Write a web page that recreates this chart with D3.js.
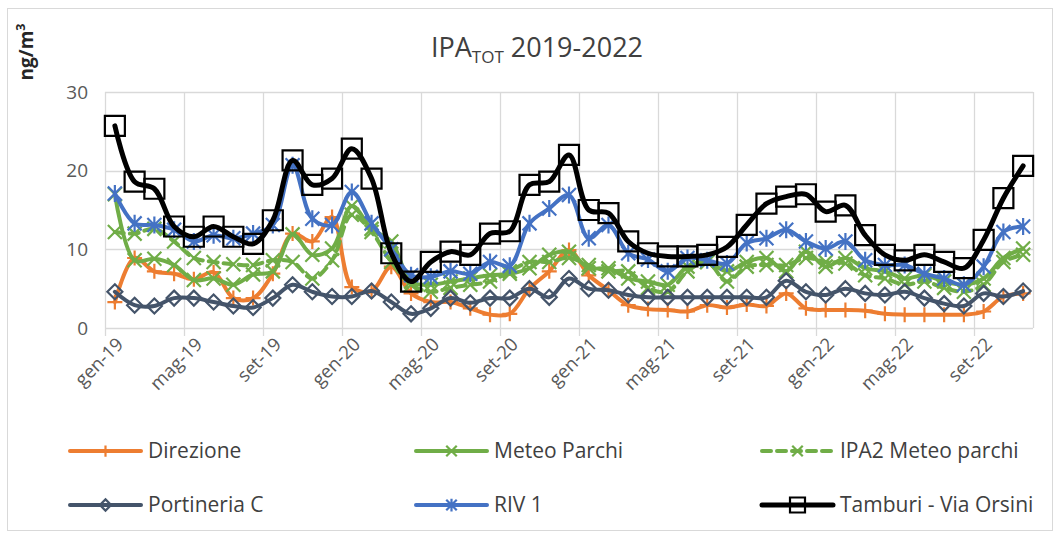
<!DOCTYPE html>
<html>
<head>
<meta charset="utf-8">
<script src="https://cdn.jsdelivr.net/npm/d3@7"></script>
<style>
  html, body { margin: 0; padding: 0; background: #fff; }
  svg { display: block; font-family: "Open Sans", "Noto Sans", sans-serif; }
</style>
</head>
<body>
<svg id="chart" width="1059" height="534"></svg>
<script>
// Monthly categories, Jan 2019 – Nov 2022
const months = [
  "gen-19","feb-19","mar-19","apr-19","mag-19","giu-19","lug-19","ago-19","set-19","ott-19","nov-19","dic-19",
  "gen-20","feb-20","mar-20","apr-20","mag-20","giu-20","lug-20","ago-20","set-20","ott-20","nov-20","dic-20",
  "gen-21","feb-21","mar-21","apr-21","mag-21","giu-21","lug-21","ago-21","set-21","ott-21","nov-21","dic-21",
  "gen-22","feb-22","mar-22","apr-22","mag-22","giu-22","lug-22","ago-22","set-22","ott-22","nov-22"
];
const tickLabels = ["gen-19","mag-19","set-19","gen-20","mag-20","set-20","gen-21","mag-21","set-21","gen-22","mag-22","set-22"];
const yTicks = [0, 10, 20, 30];

// Monthly means, ng/m3
const direzione = [3.3, 8.9, 7.2, 6.9, 6.2, 7.1, 3.8, 3.8, 6.9, 12.0, 11.0, 14.1, 5.2, 4.7, 7.8, 4.4, 3.3, 3.3, 2.5, 1.7, 1.8, 5.0, 7.2, 9.9, 6.7, 4.8, 2.9, 2.4, 2.3, 2.1, 2.9, 2.6, 3.0, 2.8, 4.4, 2.5, 2.3, 2.3, 2.2, 1.8, 1.7, 1.7, 1.7, 1.7, 2.1, 4.0, 4.4];
const meteoParchi = [17.0, 8.6, 8.8, 8.0, 6.1, 6.3, 5.5, 6.8, 7.2, 11.9, 9.3, 10.1, 15.5, 12.6, 11.0, 5.9, 5.5, 5.9, 6.3, 6.7, 6.9, 7.6, 9.3, 9.7, 7.6, 7.6, 6.3, 5.9, 5.5, 7.8, 8.4, 7.2, 8.4, 8.9, 7.2, 9.7, 7.8, 8.9, 7.6, 7.2, 6.3, 6.7, 5.9, 5.5, 6.3, 8.9, 10.1];
const ipa2MeteoParchi = [12.2, 12.0, 12.6, 11.0, 8.9, 8.4, 8.1, 8.0, 8.6, 8.4, 6.3, 8.6, 14.4, 12.2, 8.4, 5.5, 4.6, 5.1, 5.5, 5.9, 7.2, 8.4, 8.4, 8.9, 8.0, 7.2, 7.2, 5.1, 4.6, 7.2, 8.4, 5.9, 7.8, 8.0, 8.0, 8.9, 8.4, 8.2, 6.7, 6.3, 5.5, 5.9, 5.1, 4.6, 5.5, 8.4, 9.3];
const portineriaC = [4.6, 2.9, 2.8, 3.8, 3.8, 3.3, 2.8, 2.6, 3.8, 5.5, 4.6, 4.0, 4.0, 4.7, 3.3, 1.8, 2.5, 3.8, 3.2, 3.8, 3.8, 5.0, 3.9, 6.3, 5.0, 4.8, 4.2, 3.9, 3.9, 3.9, 3.9, 3.9, 3.9, 3.9, 6.0, 4.6, 4.2, 5.0, 4.4, 4.2, 4.6, 3.8, 3.1, 2.8, 4.4, 4.0, 4.7];
const riv1 = [17.1, 13.3, 13.1, 12.5, 11.0, 11.8, 11.4, 12.0, 13.1, 20.7, 13.9, 13.1, 17.3, 13.3, 10.0, 6.7, 6.5, 7.2, 6.9, 8.4, 7.9, 13.3, 15.2, 16.9, 11.4, 13.1, 9.5, 8.7, 7.2, 8.9, 8.6, 8.2, 10.8, 11.4, 12.5, 11.0, 10.1, 11.0, 8.6, 8.0, 8.0, 6.9, 6.3, 5.5, 7.8, 12.2, 12.9];
const tamburi = [25.7, 18.6, 17.7, 12.9, 11.6, 12.9, 11.6, 10.7, 13.7, 21.3, 18.2, 19.0, 22.8, 19.0, 9.5, 5.9, 8.4, 9.7, 9.3, 12.0, 12.3, 18.2, 18.6, 22.0, 15.0, 14.6, 11.0, 9.5, 9.1, 9.1, 9.3, 10.3, 13.1, 15.8, 16.7, 17.0, 14.8, 15.6, 11.8, 9.3, 8.6, 9.3, 8.4, 7.6, 11.2, 16.5, 20.6];

const seriesNames = ["Direzione", "Meteo Parchi", "IPA2 Meteo parchi", "Portineria C", "RIV 1", "Tamburi - Via Orsini"];
const seriesValues = [direzione, meteoParchi, ipa2MeteoParchi, portineriaC, riv1, tamburi];

// Marker shapes and strokes per series
const markerPaths = {
  plus: "M-7.5,0H7.5M0,-7.5V7.5",
  cross: "M-7,-7L7,7M-7,7L7,-7",
  star: "M-7,-7L7,7M-7,7L7,-7M0,-8.5V8.5",
  diamond: "M0,-7.5L7.5,0L0,7.5L-7.5,0Z",
  square: "M-10,-10H10V10H-10Z"
};
const styles = [
  { color: "#ED7D31", width: 4, dash: null, marker: "plus", mw: 2.2 },
  { color: "#70AD47", width: 4, dash: null, marker: "cross", mw: 2.2 },
  { color: "#70AD47", width: 4, dash: "9,6", marker: "cross", mw: 2.2 },
  { color: "#44546A", width: 4, dash: null, marker: "diamond", mw: 2.2 },
  { color: "#4472C4", width: 4, dash: null, marker: "star", mw: 2.2 },
  { color: "#000000", width: 5, dash: null, marker: "square", mw: 2.2 }
];

const svg = d3.select("#chart");
const W = 1059, H = 534;

svg.append("rect").attr("width", W).attr("height", H).attr("fill", "#fff");
svg.append("rect").attr("x", 7.5).attr("y", 8.5).attr("width", 1045).attr("height", 522)
  .attr("fill", "none").attr("stroke", "#d9d9d9").attr("stroke-width", 1);

const plot = { left: 105, right: 1033, top: 92, bottom: 328 };

const x = d3.scaleBand().domain(months).range([plot.left, plot.right]).padding(0);
const xc = m => x(m) + x.bandwidth() / 2;
const y = d3.scaleLinear().domain([0, 30]).range([plot.bottom, plot.top]);

const grid = svg.append("g");
// horizontal gridlines
grid.selectAll("line.h").data(yTicks).join("line")
  .attr("x1", plot.left).attr("x2", plot.right)
  .attr("y1", d => Math.round(y(d)) + 0.5).attr("y2", d => Math.round(y(d)) + 0.5)
  .attr("stroke", "#d9d9d9").attr("stroke-width", 1.3);
// vertical gridlines on the category boundary before each labelled month, plus the right edge
const vBounds = tickLabels.map(t => x(t)).concat([plot.right]);
grid.selectAll("line.v").data(vBounds).join("line")
  .attr("x1", d => Math.round(d) + 0.5).attr("x2", d => Math.round(d) + 0.5)
  .attr("y1", plot.top).attr("y2", (d, i) => i < tickLabels.length ? plot.bottom + 8 : plot.bottom)
  .attr("stroke", "#d9d9d9").attr("stroke-width", 1.3);

// y axis labels
svg.append("g").selectAll("text").data(yTicks).join("text")
  .attr("x", 88).attr("y", d => y(d)).attr("dy", "0.35em")
  .attr("text-anchor", "end").attr("font-size", 19).attr("fill", "#595959")
  .text(d => d);

// x axis labels
svg.append("g").selectAll("text").data(tickLabels).join("text")
  .attr("transform", d => `translate(${xc(d) + 5},${plot.bottom + 13}) rotate(-45)`)
  .attr("text-anchor", "end").attr("dy", "0.35em")
  .attr("font-size", 18.5).attr("fill", "#595959")
  .text(d => d);

// series
const line = d3.line().x((d, i) => xc(months[i])).y(d => y(d)).curve(d3.curveCatmullRom.alpha(0.5));
seriesValues.forEach((vals, si) => {
  const st = styles[si];
  const g = svg.append("g");
  g.append("path").attr("d", line(vals)).attr("fill", "none")
    .attr("stroke", st.color).attr("stroke-width", st.width)
    .attr("stroke-dasharray", st.dash).attr("stroke-linejoin", "round").attr("stroke-linecap", "round");
  g.selectAll("path.m").data(vals).join("path")
    .attr("transform", (d, i) => `translate(${xc(months[i])},${y(d)})`)
    .attr("d", markerPaths[st.marker]).attr("fill", "none")
    .attr("stroke", st.color).attr("stroke-width", st.mw);
});

// title
const title = svg.append("text").attr("x", 537).attr("y", 57).attr("text-anchor", "middle")
  .attr("font-size", 27).attr("fill", "#404040");
title.append("tspan").text("IPA");
title.append("tspan").attr("font-size", 17).attr("dy", 6).text("TOT");
title.append("tspan").attr("dy", -6).text(" 2019-2022");

// y axis title
const yt = svg.append("text").attr("transform", "translate(33,52) rotate(-90)")
  .attr("text-anchor", "middle").attr("font-size", 19).attr("font-weight", "bold").attr("fill", "#262626");
yt.append("tspan").text("ng/m");
yt.append("tspan").attr("font-size", 12.5).attr("dy", -8).text("3");

// legend
const legCols = [70, 416, 762];
const legRows = [451, 505];
const leg = svg.append("g");
seriesNames.forEach((name, k) => {
  const st = styles[k];
  const lx = legCols[k % 3], ly = legRows[Math.floor(k / 3)];
  const g = leg.append("g").attr("transform", `translate(${lx},${ly})`);
  g.append("line").attr("x1", 0).attr("x2", 71).attr("y1", 0).attr("y2", 0)
    .attr("stroke", st.color).attr("stroke-width", st.width).attr("stroke-dasharray", st.dash)
    .attr("stroke-linecap", "round");
  g.append("path").attr("transform", "translate(35.5,0) scale(0.75)")
    .attr("d", markerPaths[st.marker]).attr("fill", "none")
    .attr("stroke", st.color).attr("stroke-width", st.mw / 0.75);
  g.append("text").attr("x", 78).attr("y", 0).attr("dy", "0.35em")
    .attr("font-size", 21).attr("fill", "#404040").text(name);
});
</script>
</body>
</html>
